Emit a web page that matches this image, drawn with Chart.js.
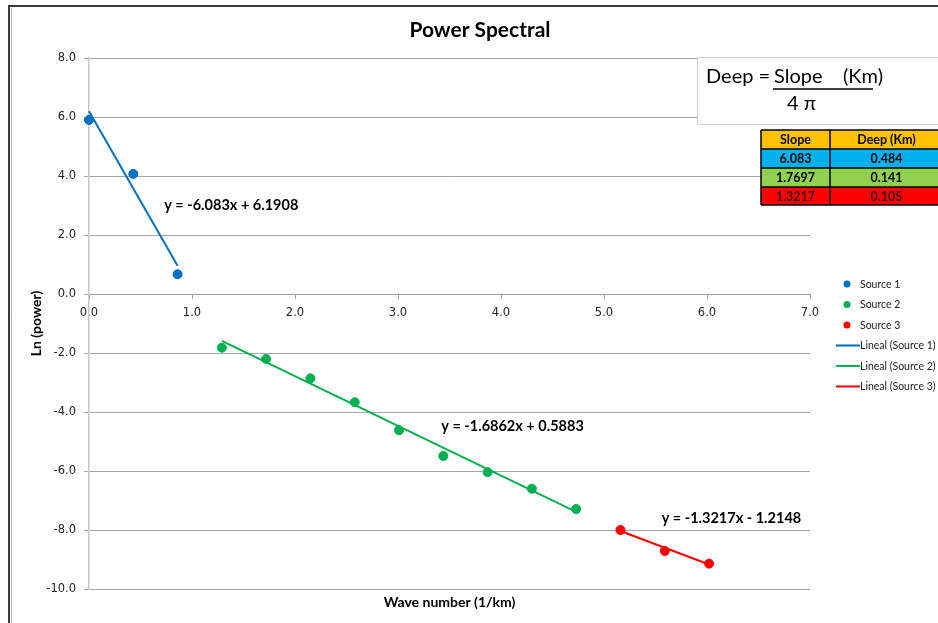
<!DOCTYPE html>
<html>
<head>
<meta charset="utf-8">
<script src="https://cdn.jsdelivr.net/npm/chart.js@4.4.1/dist/chart.umd.min.js"></script>
<style>
html, body { margin: 0; padding: 0; background: #fff; }
#wrap { width: 938px; height: 623px; position: relative; }
</style>
</head>
<body>
<div id="wrap"><canvas id="myChart" width="938" height="623"></canvas></div>
<script>
// points
var src1X = [0.0, 0.43, 0.86];
var src1Y = [5.90, 4.07, 0.67];
var src2X = [1.29, 1.72, 2.15, 2.58, 3.01, 3.44, 3.87, 4.30, 4.73];
var src2Y = [-1.82, -2.20, -2.86, -3.67, -4.62, -5.49, -6.04, -6.60, -7.29];
var src3X = [5.16, 5.59, 6.02];
var src3Y = [-8.00, -8.71, -9.14];

// trend lines (from the equations shown on the chart)
var slopes = [-6.083, -1.6862, -1.3217];
var intercepts = [6.1908, 0.5883, -1.2148];
var eqLabels = ['y = -6.083x + 6.1908', 'y = -1.6862x + 0.5883', 'y = -1.3217x - 1.2148'];
var eqAnchor = [[0.73, 3.02], [3.42, -4.47], [5.56, -7.59]]; // data units, left/middle of text

var seriesNames = ['Source 1', 'Source 2', 'Source 3'];
var colors = ['#0070C0', '#00B050', '#FF0000'];

// small table on the right
var tableHead = ['Slope', 'Deep (Km)'];
var tableSlope = ['6.083', '1.7697', '1.3217'];
var tableDeep = ['0.484', '0.141', '0.105'];
var tableColors = ['#00B0F0', '#92D050', '#FF0000'];

var xMin = 0, xMax = 7, yMin = -10, yMax = 8;

function pts(xs, ys) {
	var out = [];
	for (let i = 0; i < xs.length; i++) out.push({x: xs[i], y: ys[i]});
	return out;
}
function trend(xs, k) {
	var a = xs[0], b = xs[xs.length - 1];
	return [{x: a, y: slopes[k] * a + intercepts[k]}, {x: b, y: slopes[k] * b + intercepts[k]}];
}

var allX = [src1X, src2X, src3X];
var allY = [src1Y, src2Y, src3Y];
var datasets = [];
for (let k = 0; k < 3; k++) {
	datasets.push({
		label: seriesNames[k],
		data: pts(allX[k], allY[k]),
		backgroundColor: colors[k],
		borderColor: colors[k],
		pointRadius: 4.5,
		pointHoverRadius: 4.5,
		showLine: false,
		clip: false
	});
}
for (let k = 0; k < 3; k++) {
	datasets.push({
		label: 'Lineal (' + seriesNames[k] + ')',
		data: trend(allX[k], k),
		borderColor: colors[k],
		backgroundColor: colors[k],
		borderWidth: 2,
		pointRadius: 0,
		showLine: true,
		clip: false,
		isTrend: true
	});
}

var decor = {
	id: 'decor',
	beforeDraw: function(chart) {
		var c = chart.ctx;
		c.save();
		c.fillStyle = '#fff';
		c.fillRect(0, 0, chart.width, chart.height);
		c.strokeStyle = '#3a3a3a';
		c.lineWidth = 2;
		c.beginPath();
		c.moveTo(8, 6); c.lineTo(chart.width, 6);
		c.moveTo(9, 6); c.lineTo(9, chart.height);
		c.stroke();
		c.strokeStyle = '#b0b0b0';
		c.lineWidth = 1;
		c.beginPath();
		c.moveTo(11.5, 8); c.lineTo(11.5, chart.height);
		c.stroke();
		c.restore();
	},
	afterDraw: function(chart) {
		var c = chart.ctx, xs = chart.scales.x, ys = chart.scales.y, area = chart.chartArea;
		c.save();
		// title
		c.fillStyle = '#000';
		c.textAlign = 'center';
		c.textBaseline = 'middle';
		c.font = 'bold 21px Lato';
		c.fillText('Power Spectral', 480, 30);
		// x axis title
		c.font = 'bold 14px Lato';
		c.fillText('Wave number (1/km)', (area.left + area.right) / 2, 602);

		// equations
		c.textAlign = 'left';
		c.font = 'bold 14.5px Lato';
		for (let k = 0; k < eqLabels.length; k++) {
			c.fillText(eqLabels[k], xs.getPixelForValue(eqAnchor[k][0]), ys.getPixelForValue(eqAnchor[k][1]));
		}

		// formula box
		c.fillStyle = '#fff';
		c.fillRect(697, 57, 250, 67);
		c.strokeStyle = '#d0d0d0';
		c.lineWidth = 1;
		c.strokeRect(697.5, 57.5, 250, 67);
		c.fillStyle = '#000';
		c.font = '20px Lato';
		c.textBaseline = 'middle';
		c.fillText('Deep =', 706, 77);
		c.fillText('Slope', 774, 77);
		c.fillText('(Km)', 843, 77);
		c.fillText('4 \u03c0', 787, 104);
		c.strokeStyle = '#000';
		c.lineWidth = 1.5;
		c.beginPath();
		c.moveTo(773, 89); c.lineTo(873, 89);
		c.stroke();

		// table
		var colX = [761, 830, 943];
		var rowY = [130, 149, 168, 187, 205];
		c.font = 'bold 12.5px Lato';
		c.textAlign = 'center';
		for (let r = 0; r < 4; r++) {
			c.fillStyle = r === 0 ? '#FFC000' : tableColors[r - 1];
			c.fillRect(colX[0], rowY[r], colX[2] - colX[0], rowY[r + 1] - rowY[r]);
			var cells = r === 0 ? tableHead : [tableSlope[r - 1], tableDeep[r - 1]];
			c.fillStyle = r === 3 ? '#300000' : '#000';
			for (let j = 0; j < 2; j++) {
				c.fillText(cells[j], (colX[j] + colX[j + 1]) / 2, (rowY[r] + rowY[r + 1]) / 2 + 0.5);
			}
		}
		c.strokeStyle = '#000';
		c.lineWidth = 1.5;
		c.beginPath();
		for (let r = 0; r < rowY.length; r++) { c.moveTo(colX[0], rowY[r]); c.lineTo(colX[2], rowY[r]); }
		for (let j = 0; j < colX.length; j++) { c.moveTo(colX[j], rowY[0]); c.lineTo(colX[j], rowY[4]); }
		c.stroke();

		// legend
		var ly = [284, 304.5, 325, 345.5, 366, 386.5];
		c.font = '10.5px Lato';
		c.textAlign = 'left';
		c.textBaseline = 'middle';
		var ds = chart.data.datasets;
		for (let i = 0; i < ds.length; i++) {
			if (ds[i].isTrend) {
				c.strokeStyle = ds[i].borderColor;
				c.lineWidth = 2;
				c.beginPath();
				c.moveTo(836, ly[i]); c.lineTo(860, ly[i]);
				c.stroke();
			} else {
				c.fillStyle = ds[i].backgroundColor;
				c.beginPath();
				c.arc(847, ly[i], 3.5, 0, Math.PI * 2);
				c.fill();
			}
			c.fillStyle = '#222';
			c.fillText(ds[i].label, 860, ly[i] + 0.5);
		}
		c.restore();
	}
};

var ctx = document.getElementById('myChart');
var myChart = new Chart(ctx, {
	type: 'scatter',
	data: { datasets: datasets },
	options: {
		responsive: false,
		animation: false,
		events: [],
		layout: { padding: { left: 10, right: 128, top: 58, bottom: 34 } },
		plugins: {
			legend: { display: false },
			title: { display: false },
			tooltip: { enabled: false }
		},
		scales: {
			x: {
				type: 'linear',
				position: { y: 0 },
				min: xMin,
				max: xMax,
				ticks: {
					stepSize: 1,
					padding: 8,
					color: '#262626',
					font: { family: 'DejaVu Sans', size: 11.5 },
					callback: function(v) { return v.toFixed(1); }
				},
				grid: { drawOnChartArea: false, drawTicks: true, tickLength: 4, color: '#a0a0a0' },
				border: { color: '#a0a0a0', width: 1 }
			},
			y: {
				type: 'linear',
				min: yMin,
				max: yMax,
				afterFit: function(scale) { scale.width = 79; },
				ticks: {
					stepSize: 2,
					padding: 8,
					color: '#262626',
					font: { family: 'DejaVu Sans', size: 11.5 },
					callback: function(v) { return v.toFixed(1); }
				},
				grid: { color: '#a6a6a6', tickLength: 5 },
				border: { color: '#c8c8c8', width: 1.5 },
				title: {
					display: true,
					text: 'Ln (power)',
					color: '#000',
					font: { family: 'Lato', size: 14, weight: 'bold' },
					padding: { top: 18, bottom: 0 }
				}
			}
		}
	},
	plugins: [decor]
});
</script>
</body>
</html>
